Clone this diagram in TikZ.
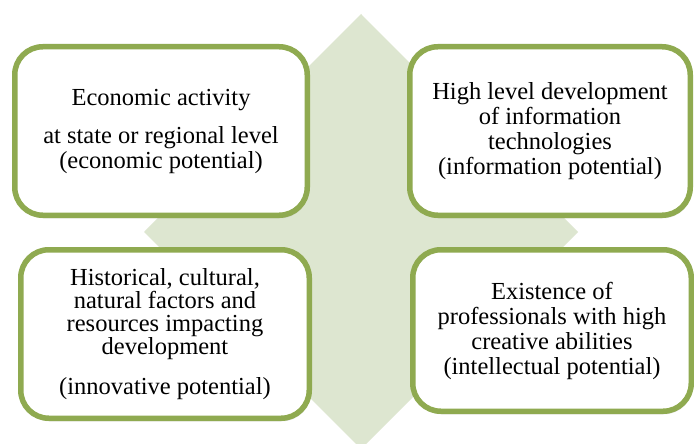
\documentclass[tikz,border=0pt]{standalone}
\usepackage{fontspec}
\setmainfont{Liberation Serif}
\usetikzlibrary{shadows}
\definecolor{rimgreen}{RGB}{143,170,80}
\definecolor{diamondfill}{RGB}{221,230,208}
\tikzset{
  factorbox/.style={draw=rimgreen, line width=5.5pt, fill=white,
    rounded corners=28pt, align=center, inner sep=0pt,
    font=\fontsize{24.5}{25}\selectfont,
    drop shadow={opacity=0.22, shadow xshift=1pt, shadow yshift=-3pt}}
}
\begin{document}
\begin{tikzpicture}[x=1pt,y=-1pt]
  % page frame
  \path[use as bounding box, fill=white] (0,0) rectangle (694,444);
  % central diamond behind the boxes
  \fill[diamondfill] (361,14) -- (578,232) -- (361,449) -- (144,232) -- cycle;
  % the four factor boxes
  \node[factorbox, minimum width=292.5pt, minimum height=168.5pt] (econ) at (161,131)
    {Economic activity\\[13pt] at state or regional level\\ (economic potential)};
  \node[factorbox, minimum width=280.5pt, minimum height=168.5pt] (info) at (550,131)
    {High level development\\ of information\\ technologies\\ (information potential)};
  \node[factorbox, minimum width=288.5pt, minimum height=168.5pt] (innov) at (165,334)
    {Historical, cultural,\\[-2pt] natural factors and\\[-2pt] resources impacting\\[-2pt] development\\[15pt] (innovative potential)};
  \node[factorbox, minimum width=278.5pt, minimum height=161.5pt] (intel) at (552,330.5)
    {Existence of\\ professionals with high\\ creative abilities\\ (intellectual potential)};
\end{tikzpicture}
\end{document}
